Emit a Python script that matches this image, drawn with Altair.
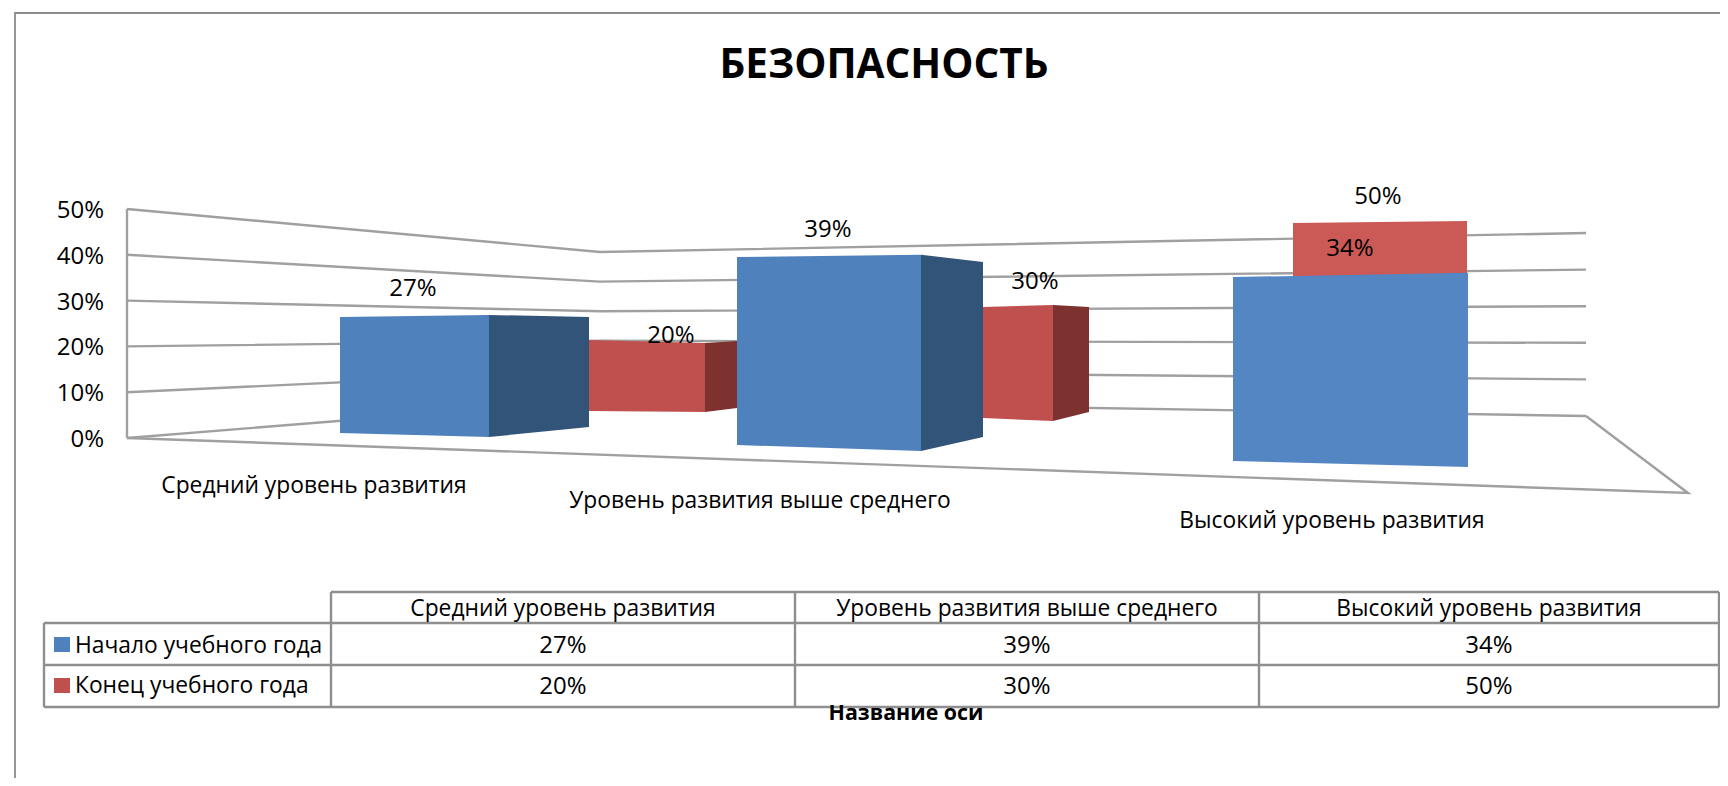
import altair as alt
import pandas as pd

# ---- data ----
TITLE = "БЕЗОПАСНОСТЬ"
AXIS_TITLE = "Название оси"
categories = ["Средний уровень развития", "Уровень развития выше среднего", "Высокий уровень развития"]
series_names = ["Начало учебного года", "Конец учебного года"]
start_values = [27, 39, 34]
end_values = [20, 30, 50]
ticks = [0, 10, 20, 30, 40, 50]

# ---- layout: the page is treated as a pixel canvas with a perspective projection ----
PAGE_X = [8, 1720]
PAGE_Y = [778, 8]
FONT = "Open Sans"
TXT = 22.8
PCT = 24
GRID = "#a0a0a0"
BLUE, BLUE_D, BLUE_L = "#4F81BD", "#325479", "#5486C3"
RED, RED_D, RED_L = "#C0504D", "#7D3230", "#CB5955"

WALL_X = [127, 600, 1586]            # left wall, back corner, right end
WALL_BASE = [438, 400, 416]          # y of 0 %
WALL_UNIT = [4.58, 2.96, 3.66]       # px per 1 %
FLOOR_CORNER = (1688, 493)

# per bar: x of front-left, front-right, side-right; base y and px/% at each of them
bars = [
    # series, category, colours, xs, bases, units   (back to front)
    (1, 0, RED, RED_D, [589, 705, 737], [411, 412, 408], [3.55, 3.45, 3.35]),
    (1, 1, RED, RED_D, [983, 1053, 1089], [418, 421, 412], [3.70, 3.87, 3.50]),
    (1, 2, RED_L, None, [1293, 1467], [410, 410], [3.74, 3.78]),
    (0, 0, BLUE, BLUE_D, [340, 489, 589], [433, 437, 427], [4.30, 4.52, 4.07]),
    (0, 1, BLUE, BLUE_D, [737, 921, 983], [445, 451, 437], [4.82, 5.03, 4.49]),
    (0, 2, BLUE_L, None, [1233, 1468], [461, 467], [5.41, 5.71]),
]
values = [start_values, end_values]

X = alt.X("x:Q", scale=alt.Scale(domain=PAGE_X), axis=None)
Y = alt.Y("y:Q", scale=alt.Scale(domain=PAGE_Y), axis=None)
X2 = alt.X2("x2:Q")
Y2 = alt.Y2("y2:Q")


def line(points, color=GRID, width=2.4):
    df = pd.DataFrame(points, columns=["x", "y"])
    df["o"] = range(len(df))
    return alt.Chart(df).mark_line(color=color, strokeWidth=width, interpolate="linear").encode(
        x=X, y=Y, order="o:Q")


def quad(x0, x1, b0, b1, u0, u1, v, color):
    df = pd.DataFrame({"x": [x0, x1], "y": [b0 - u0 * v, b1 - u1 * v], "y2": [b0, b1]})
    return alt.Chart(df).mark_area(color=color, interpolate="linear").encode(x=X, y=Y, y2=Y2)


def texts(rows, size=TXT, weight="normal", align="center"):
    df = pd.DataFrame(rows, columns=["x", "y", "t"])
    return alt.Chart(df).mark_text(font=FONT, fontSize=size, fontWeight=weight, align=align,
                                   baseline="middle", color="#000000").encode(x=X, y=Y, text="t:N")


def fmt(v):
    return f"{v}%"


layers = []

# outer frame
layers.append(line([(15, 778), (15, 13), (1720, 13)], "#8c8c8c", 1.8))

# walls and gridlines
for t in ticks:
    layers.append(line([(WALL_X[i], WALL_BASE[i] - WALL_UNIT[i] * t) for i in range(3)]))
layers.append(line([(WALL_X[0], WALL_BASE[0]), (WALL_X[0], WALL_BASE[0] - WALL_UNIT[0] * ticks[-1])]))
layers.append(line([(WALL_X[0], WALL_BASE[0]), FLOOR_CORNER, (WALL_X[2], WALL_BASE[2])]))

# bars
for s, c, col, col_d, xs, bs, us in bars:
    v = values[s][c]
    layers.append(quad(xs[0], xs[1], bs[0], bs[1], us[0], us[1], v, col))
    if col_d:
        layers.append(quad(xs[1], xs[2], bs[1], bs[2], us[1], us[2], v, col_d))

# y tick labels
layers.append(texts([(104, WALL_BASE[0] + 2 - WALL_UNIT[0] * t, fmt(t)) for t in ticks], size=PCT, align="right"))

# category labels under the floor
layers.append(texts([(314, 486, categories[0]), (760, 501, categories[1]), (1332, 521, categories[2])]))

# data labels
layers.append(texts([
    (413, 289, fmt(start_values[0])), (828, 230, fmt(start_values[1])), (1350, 249, fmt(start_values[2])),
    (671, 336, fmt(end_values[0])), (1035, 282, fmt(end_values[1])), (1378, 197, fmt(end_values[2])),
], size=PCT))

# data table
T_X = [44, 331, 795, 1259, 1719]
T_Y = [592, 623, 665, 707]
rules = [(T_X[0], T_Y[1], T_X[4], T_Y[1]), (T_X[0], T_Y[2], T_X[4], T_Y[2]), (T_X[0], T_Y[3], T_X[4], T_Y[3]),
         (T_X[1], T_Y[0], T_X[4], T_Y[0]), (T_X[0], T_Y[1], T_X[0], T_Y[3])]
rules += [(x, T_Y[0], x, T_Y[3]) for x in T_X[1:]]
for a, b, c, d in rules:
    layers.append(line([(a, b), (c, d)], "#8f8f8f", 2.4))
centers = [(T_X[i] + T_X[i + 1]) / 2 for i in range(1, 4)]
layers.append(texts([(centers[i], 609, categories[i]) for i in range(3)]))
layers.append(texts([(centers[i], 646, fmt(start_values[i])) for i in range(3)], size=PCT))
layers.append(texts([(centers[i], 687, fmt(end_values[i])) for i in range(3)], size=PCT))
layers.append(texts([(75, 646, series_names[0]), (75, 686, series_names[1])], align="left"))

# legend keys
keys = pd.DataFrame({"x": [54, 54], "x2": [70, 70], "y": [637, 678], "y2": [652, 693], "c": [BLUE, RED]})
layers.append(alt.Chart(keys).mark_rect().encode(x=X, x2=X2, y=Y, y2=Y2, color=alt.Color("c:N", scale=None)))

# titles
layers.append(texts([(884, 66, TITLE)], size=40.5, weight="bold"))
layers.append(texts([(906, 714, AXIS_TITLE)], size=21.4, weight="bold"))

chart = alt.layer(*layers).properties(
    width=PAGE_X[1] - PAGE_X[0], height=PAGE_Y[0] - PAGE_Y[1], padding=0,
    autosize=alt.AutoSizeParams(type="none"),
).configure_view(stroke=None)

chart.save("out.html", embed_options={"renderer": "svg", "actions": False})
